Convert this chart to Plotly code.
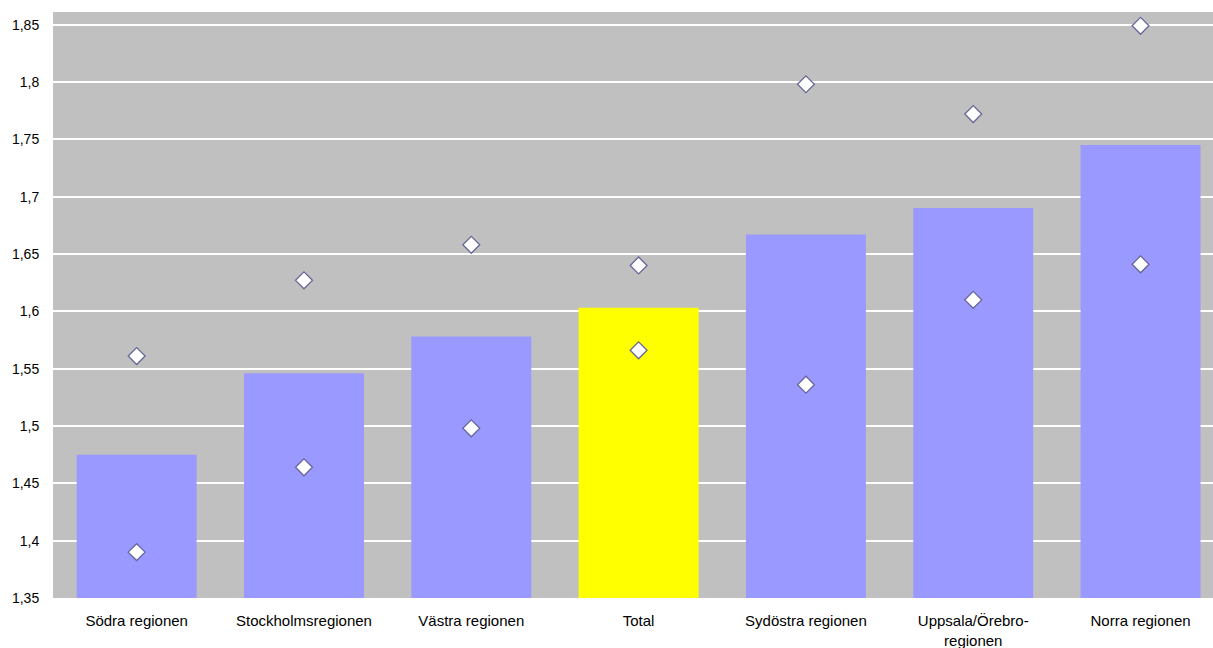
import plotly.graph_objects as go

categories = [
    "Södra regionen",
    "Stockholmsregionen",
    "Västra regionen",
    "Total",
    "Sydöstra regionen",
    "Uppsala/Örebro-<br>regionen",
    "Norra regionen",
]
values = [1.475, 1.546, 1.578, 1.603, 1.667, 1.690, 1.745]
upper = [1.561, 1.627, 1.658, 1.640, 1.798, 1.772, 1.849]
lower = [1.390, 1.464, 1.498, 1.566, 1.536, 1.610, 1.641]

tick_vals = [1.35, 1.4, 1.45, 1.5, 1.55, 1.6, 1.65, 1.7, 1.75, 1.8, 1.85]
tick_text = ["1,35", "1,4", "1,45", "1,5", "1,55", "1,6", "1,65", "1,7", "1,75", "1,8", "1,85"]

bar_colors = ["#FFFF00" if c == "Total" else "#9999FF" for c in categories]

marker_style = dict(
    symbol="diamond",
    size=13,
    color="#FFFFFF",
    line=dict(color="#666699", width=1.3),
)

fig = go.Figure()
fig.add_trace(go.Bar(
    x=list(range(len(categories))), y=values,
    base=0,
    marker=dict(color=bar_colors, line=dict(width=0)),
    showlegend=False,
))
fig.add_trace(go.Scatter(
    x=list(range(len(categories))), y=upper, mode="markers",
    marker=marker_style, showlegend=False,
))
fig.add_trace(go.Scatter(
    x=list(range(len(categories))), y=lower, mode="markers",
    marker=marker_style, showlegend=False,
))

fig.update_layout(
    width=1213, height=648,
    margin=dict(l=53, r=0, t=12, b=50),
    paper_bgcolor="#FFFFFF",
    plot_bgcolor="#C0C0C0",
    bargap=0.283,
    font=dict(family="Liberation Sans, Arial, sans-serif", size=14, color="#000000"),
    xaxis=dict(
        range=[-0.5, 6.433],
        tickmode="array",
        tickvals=list(range(len(categories))),
        ticktext=categories,
        showgrid=False, zeroline=False, showline=False,
        ticks="outside", ticklen=9, tickcolor="rgba(0,0,0,0)",
        tickfont=dict(size=15),
    ),
    yaxis=dict(
        range=[1.35, 1.861],
        tickvals=tick_vals, ticktext=tick_text,
        showgrid=True, gridcolor="#FFFFFF", gridwidth=1.5,
        zeroline=False, showline=False,
        ticks="outside", ticklen=10, tickcolor="rgba(0,0,0,0)",
        tickfont=dict(size=14),
    ),
)

fig.write_html("out.html")
